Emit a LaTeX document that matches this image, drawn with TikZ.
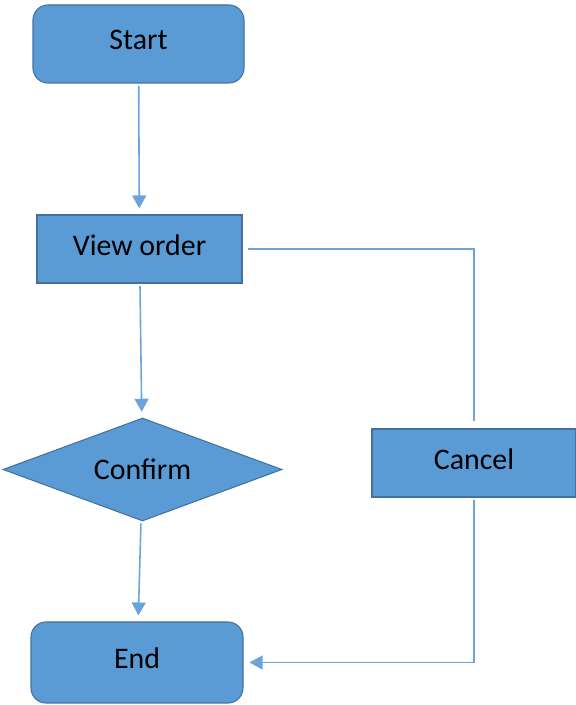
\documentclass[tikz,border=0pt]{standalone}
\usepackage{fontspec}
\setmainfont{Carlito}
\usepackage{tikz}
\usetikzlibrary{shapes,arrows,arrows.meta,positioning}

\definecolor{boxfill}{HTML}{5B9BD5}
\definecolor{boxline}{HTML}{41719C}
\definecolor{flowline}{HTML}{6AA4DA}

\begin{document}
\begin{tikzpicture}
			\tikzstyle{Box}		= [rectangle, draw=boxline, fill=boxfill, line width=0.6pt, inner sep=0pt, text depth=0.16cm, font=\fontsize{17}{20}\selectfont]
			\tikzstyle{Terminal}	= [Box, rounded corners=0.3cm]
			\tikzstyle{Decision}	= [diamond, aspect=2.7, draw=boxline, fill=boxfill, line width=0.6pt, inner sep=0pt, font=\fontsize{17}{20}\selectfont]
			\tikzstyle{Flow}	= [flowline, line width=0.9pt, -{Triangle[width=0.28cm,length=0.26cm]}, shorten <=0.05cm, shorten >=0.12cm]
			\tikzstyle{Link}	= [flowline, line width=0.9pt, shorten <=0.1cm, shorten >=0.14cm]

			\useasboundingbox (0,0) rectangle (11.52,14.1);

			\node (start) at (2.77, 13.22) [Terminal, minimum width=4.22cm, minimum height=1.56cm] {Start};
			\node (view) at (2.79, 9.12) [Box, minimum width=4.1cm, minimum height=1.36cm] {View order};
			\node (confirm) at (2.85, 4.71) [Decision, minimum width=5.58cm, minimum height=2.06cm] {Confirm};
			\node (cancel) at (9.48, 4.84) [Box, minimum width=4.08cm, minimum height=1.36cm] {Cancel};
			\node (end) at (2.74, 0.85) [Terminal, minimum width=4.24cm, minimum height=1.62cm] {End};

			\draw (start) to (view) [Flow];
			\draw (view) to (confirm) [Flow];
			\draw (confirm) to (end) [Flow];
			\draw (view.east) -- (view.east -| cancel) -- (cancel.north) [Link];
			\draw (cancel.south) |- (end.east) [Flow];
		\end{tikzpicture}
\end{document}
